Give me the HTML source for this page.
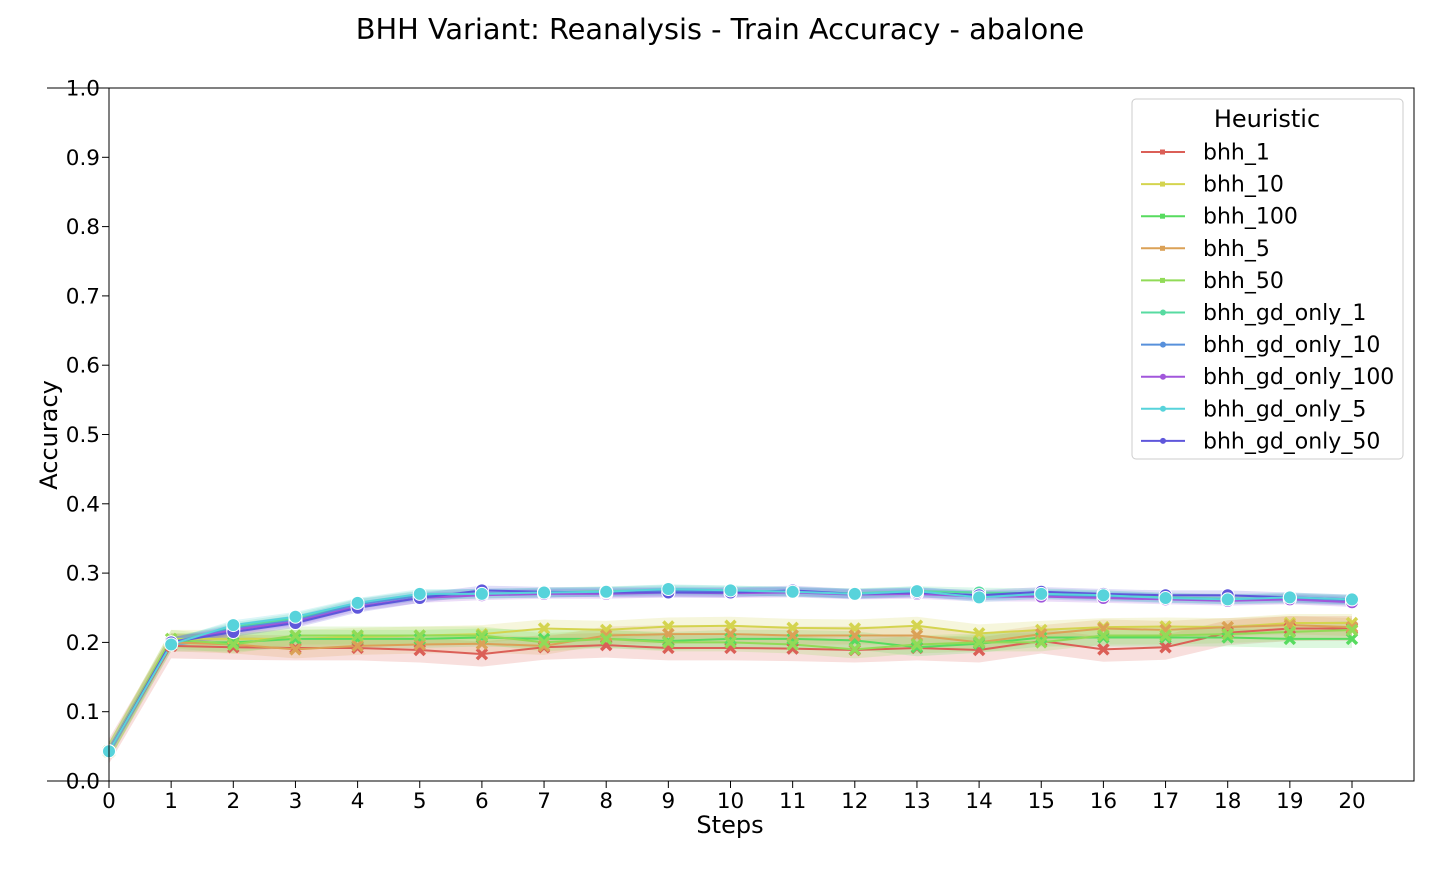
<!DOCTYPE html>
<html><head><meta charset="utf-8"><style>
body{margin:0;background:#fff;font-family:"Liberation Sans",sans-serif}
svg text{font-family:"DejaVu Sans","Liberation Sans",sans-serif}
</style></head><body>
<svg id="chart" width="1440" height="864" xmlns="http://www.w3.org/2000/svg">
<rect width="1440" height="864" fill="#fff"/>
<text x="720" y="39" font-size="28.8" text-anchor="middle">BHH Variant: Reanalysis - Train Accuracy - abalone</text>
<g id="bands"></g><g id="lines"></g><g id="marks"></g>
<rect x="109" y="88" width="1305" height="693" fill="none" stroke="#000" stroke-width="1"/>
<line x1="47" x2="109" y1="88" y2="88" stroke="#000"/>
<line x1="47" x2="109" y1="781" y2="781" stroke="#000"/>
<g id="axes"></g>
<text x="730" y="833" font-size="24" text-anchor="middle">Steps</text>
<text transform="translate(57,435) rotate(-90)" font-size="24" text-anchor="middle">Accuracy</text>
<g id="legend"></g>
</svg>
<script>
const steps=[0,1,2,3,4,5,6,7,8,9,10,11,12,13,14,15,16,17,18,19,20];
const yTicks=[0,0.1,0.2,0.3,0.4,0.5,0.6,0.7,0.8,0.9,1.0];
const names=["bhh_1","bhh_10","bhh_100","bhh_5","bhh_50","bhh_gd_only_1","bhh_gd_only_10","bhh_gd_only_100","bhh_gd_only_5","bhh_gd_only_50"];
const colors=["#db5f57","#d4d44f","#57db5f","#dba157","#91db57","#57dba1","#5790db","#a157db","#57d3db","#5f57db"];
const s_bhh_1=[0.043,0.195,0.193,0.192,0.192,0.189,0.183,0.193,0.196,0.192,0.192,0.191,0.189,0.192,0.189,0.202,0.19,0.193,0.214,0.22,0.22];
const s_bhh_10=[0.043,0.205,0.205,0.205,0.208,0.21,0.212,0.22,0.218,0.223,0.224,0.221,0.22,0.224,0.213,0.218,0.222,0.223,0.222,0.228,0.228];
const s_bhh_100=[0.043,0.2,0.2,0.205,0.205,0.205,0.207,0.205,0.205,0.202,0.205,0.205,0.203,0.193,0.198,0.207,0.207,0.207,0.207,0.205,0.205];
const s_bhh_5=[0.043,0.2,0.197,0.19,0.195,0.197,0.198,0.195,0.21,0.212,0.212,0.21,0.21,0.21,0.2,0.212,0.22,0.218,0.222,0.225,0.222];
const s_bhh_50=[0.043,0.205,0.197,0.21,0.21,0.21,0.21,0.2,0.205,0.2,0.2,0.197,0.19,0.197,0.2,0.2,0.21,0.21,0.212,0.215,0.218];
const s_gd_1=[0.043,0.2,0.222,0.235,0.256,0.268,0.27,0.272,0.274,0.276,0.275,0.273,0.271,0.274,0.272,0.271,0.268,0.265,0.263,0.264,0.261];
const s_gd_10=[0.043,0.2,0.22,0.232,0.255,0.267,0.271,0.271,0.273,0.274,0.273,0.273,0.27,0.272,0.268,0.269,0.266,0.264,0.262,0.263,0.26];
const s_gd_100=[0.043,0.2,0.218,0.23,0.252,0.264,0.268,0.27,0.27,0.272,0.271,0.272,0.269,0.27,0.266,0.266,0.264,0.262,0.26,0.262,0.258];
const s_gd_5=[0.043,0.197,0.225,0.237,0.257,0.27,0.27,0.272,0.273,0.277,0.275,0.273,0.27,0.274,0.265,0.27,0.268,0.264,0.262,0.265,0.262];
const s_gd_50=[0.043,0.2,0.215,0.228,0.25,0.264,0.275,0.273,0.272,0.272,0.272,0.275,0.27,0.272,0.268,0.273,0.27,0.268,0.268,0.265,0.262];
const series=[s_bhh_1,s_bhh_10,s_bhh_100,s_bhh_5,s_bhh_50,s_gd_1,s_gd_10,s_gd_100,s_gd_5,s_gd_50];
const drawOrder=[0,1,2,3,4,5,6,7,9,8];
const NS="http://www.w3.org/2000/svg";
const X=s=>109+s*(1352-109)/20, Y=v=>781-v*693;
function mk(t,a,p){const e=document.createElementNS(NS,t);for(const k in a)e.setAttribute(k,a[k]);p.appendChild(e);return e;}
const axes=document.getElementById('axes');
steps.forEach(s=>{
  const t=mk('line',{x1:X(s),x2:X(s),y1:781,y2:788,stroke:'#000'},axes);
  
  
  const l=mk('text',{x:X(s),y:808,'font-size':21.5,'text-anchor':'middle'},axes);l.textContent=s;
  
  
});
yTicks.forEach(v=>{
  const t=mk('line',{x1:102,x2:109,y1:Y(v),y2:Y(v),stroke:'#000'},axes);
  
  
  const l=mk('text',{x:100,y:Y(v)+7.5,'font-size':21.5,'text-anchor':'end'},axes);l.textContent=v.toFixed(1);
  
  
});
const bands=document.getElementById('bands'),lines=document.getElementById('lines'),marks=document.getElementById('marks');
drawOrder.forEach(i=>{
  const d=series[i];
  const c=colors[i], w=i<5?(i==0?0.018:0.013):0.007;
  const up=d.map((v,s)=>X(s)+','+Y(v+w)).join(' ');
  const dn=d.map((v,s)=>X(s)+','+Y(v-w)).reverse().join(' ');
  const b=mk('polygon',{points:up+' '+dn,fill:c,'fill-opacity':0.2},bands);
  
  
  const p=mk('polyline',{points:d.map((v,s)=>X(s)+','+Y(v)).join(' '),fill:'none',stroke:c,'stroke-width':2},lines);
  
  
  d.forEach((v,s)=>{
    let m;
    if(i<5){
      const x=X(s),y=Y(v);
      m=mk('path',{d:`M${x-5},${y-5}L${x+5},${y+5}M${x-5},${y+5}L${x+5},${y-5}`,stroke:c,'stroke-width':3.5},marks);
    } else {
      m=mk('circle',{cx:X(s),cy:Y(v),r:6.5,fill:c,stroke:'#fff','stroke-width':1},marks);
    }
    
    
  });
});
const lg=document.getElementById('legend');
const box=mk('rect',{x:1132,y:99,width:271,height:360,rx:4,fill:'#fff','fill-opacity':0.8,stroke:'#ccc'},lg);


const lt=mk('text',{x:1267,y:127,'font-size':24,'text-anchor':'middle'},lg);lt.textContent='Heuristic';


names.forEach((n,i)=>{
  const y=152+i*32.1;
  const g=mk('g',{},lg);
  
  
  mk('line',{x1:1141,x2:1185,y1:y,y2:y,stroke:colors[i],'stroke-width':2},g);
  if(i<5) mk('rect',{x:1160,y:y-2.5,width:5,height:5,fill:colors[i]},g);
  else mk('circle',{cx:1163,cy:y,r:3,fill:colors[i]},g);
  const t=mk('text',{x:1203,y:y+7.5,'font-size':22},g);t.textContent=n;
});
</script>
</body></html>
